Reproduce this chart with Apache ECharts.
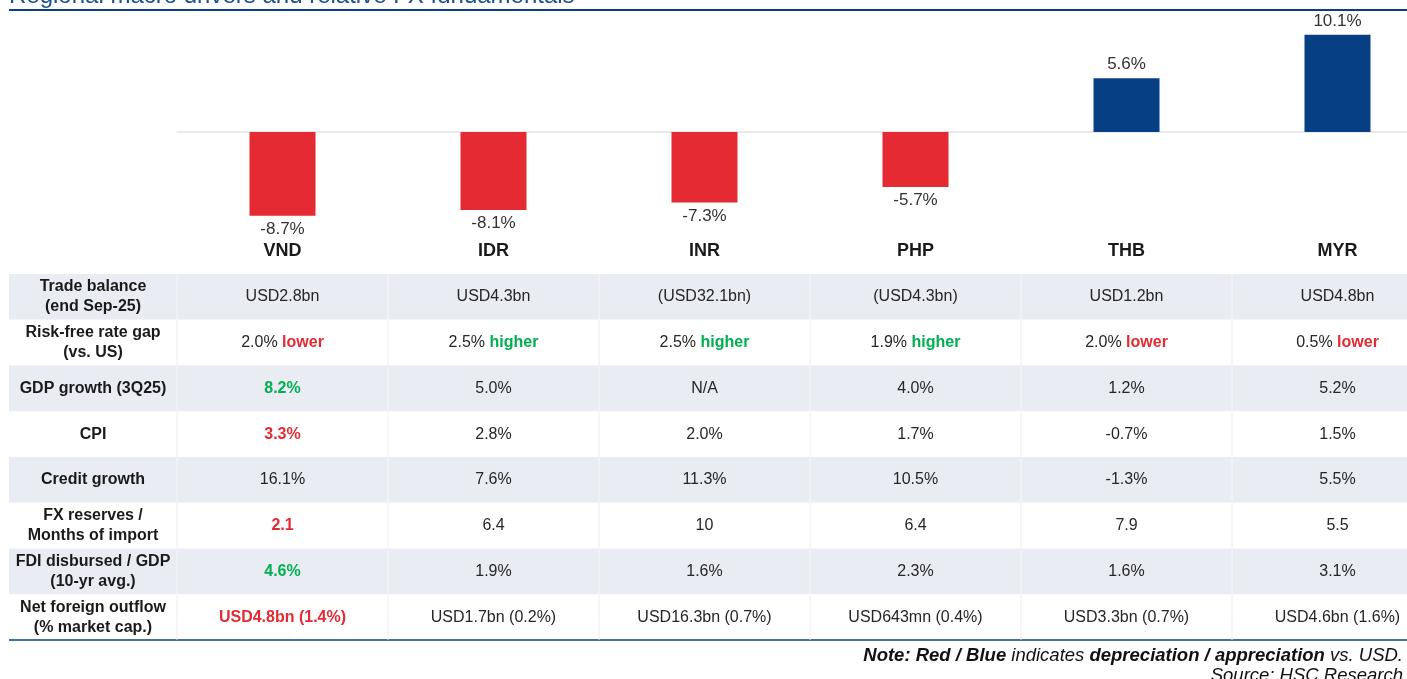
<!DOCTYPE html>
<html>
<head>
<meta charset="utf-8">
<script src="https://cdn.jsdelivr.net/npm/echarts@6/dist/echarts.min.js"></script>
<style>
  html, body { margin: 0; padding: 0; background: #fff; overflow: hidden; }
  /* the chart runs a little past the right edge of the window, as in the source */
  #chart { width: 1443px; height: 679px; }
</style>
</head>
<body>
<div id="chart"></div>
<script>
const currencies = ['VND', 'IDR', 'INR', 'PHP', 'THB', 'MYR']
const fxChange = [-8.7, -8.1, -7.3, -5.7, 5.6, 10.1]

const rowLabels = [
  'Trade balance\n(end Sep-25)',
  'Risk-free rate gap\n(vs. US)',
  'GDP growth (3Q25)',
  'CPI',
  'Credit growth',
  'FX reserves /\nMonths of import',
  'FDI disbursed / GDP\n(10-yr avg.)',
  'Net foreign outflow\n(% market cap.)'
]
// {r|..} = red bold, {g|..} = green bold
const tradeBalance = ['USD2.8bn', 'USD4.3bn', '(USD32.1bn)', '(USD4.3bn)', 'USD1.2bn', 'USD4.8bn']
const rateGap = ['2.0% {r|lower}', '2.5% {g|higher}', '2.5% {g|higher}', '1.9% {g|higher}', '2.0% {r|lower}', '0.5% {r|lower}']
const gdpGrowth = ['{g|8.2%}', '5.0%', 'N/A', '4.0%', '1.2%', '5.2%']
const cpi = ['{r|3.3%}', '2.8%', '2.0%', '1.7%', '-0.7%', '1.5%']
const creditGrowth = ['16.1%', '7.6%', '11.3%', '10.5%', '-1.3%', '5.5%']
const fxReserves = ['{r|2.1}', '6.4', '10', '6.4', '7.9', '5.5']
const fdiGdp = ['{g|4.6%}', '1.9%', '1.6%', '2.3%', '1.6%', '3.1%']
const netOutflow = ['{r|USD4.8bn (1.4%)}', 'USD1.7bn (0.2%)', 'USD16.3bn (0.7%)', 'USD643mn (0.4%)', 'USD3.3bn (0.7%)', 'USD4.6bn (1.6%)']

const tableRows = [tradeBalance, rateGap, gdpGrowth, cpi, creditGrowth, fxReserves, fdiGdp, netOutflow]

const FONT = "'Liberation Sans', Arial, sans-serif"
const RED = '#e52a33'
const BLUE = '#073f85'
const GREEN = '#00b050'
const NAVY = '#0d3f80'
const BAND = '#e9ecf3'
const LABEL_COL = 168

const chart = echarts.init(document.getElementById('chart'))

const cellData = []
tableRows.forEach((row, r) => row.forEach((_, c) => cellData.push([c, r])))

chart.setOption({
  animation: false,
  title: [
    {
      text: 'Regional macro drivers and relative FX fundamentals',
      left: 4,
      top: -21,
      textStyle: { color: '#1b4f8f', fontFamily: FONT, fontSize: 24, fontWeight: 'normal' }
    },
    {
      text: '{b|Note: Red / Blue}{i| indicates }{b|depreciation / appreciation}{i| vs. USD.}',
      right: 35,
      top: 641,
      textStyle: {
        rich: {
          b: { fontFamily: FONT, fontSize: 18.5, fontStyle: 'italic', fontWeight: 'bold', color: '#111' },
          i: { fontFamily: FONT, fontSize: 18.5, fontStyle: 'italic', fontWeight: 'normal', color: '#111' }
        }
      }
    },
    {
      text: 'Source: HSC Research',
      right: 35,
      top: 661,
      textStyle: { fontFamily: FONT, fontSize: 18.5, fontStyle: 'italic', fontWeight: 'normal', color: '#111' }
    }
  ],
  graphic: [
    {
      type: 'line',
      shape: { x1: 9, y1: 10, x2: 1407, y2: 10 },
      style: { stroke: NAVY, lineWidth: 2 }
    }
  ],
  grid: [
    { left: 177, right: 0, top: 31, bottom: 441 },
    { left: 177, right: 0, top: 274, bottom: 39 }
  ],
  xAxis: [
    {
      type: 'category',
      gridIndex: 0,
      data: currencies,
      axisLine: { onZero: true, lineStyle: { color: '#e4e4e4', width: 1.5 } },
      axisTick: { show: false },
      axisLabel: { show: false }
    },
    {
      type: 'category',
      gridIndex: 0,
      position: 'bottom',
      data: currencies,
      axisLine: { show: false, onZero: false },
      axisTick: { show: false },
      axisLabel: { margin: 4, color: '#1a1a1a', fontFamily: FONT, fontSize: 18, fontWeight: 'bold' }
    },
    {
      type: 'category',
      gridIndex: 1,
      data: currencies,
      show: false
    }
  ],
  yAxis: [
    { type: 'value', gridIndex: 0, min: -11, max: 10.5, show: false },
    {
      type: 'category',
      gridIndex: 1,
      data: rowLabels,
      inverse: true,
      z: 10,
      axisLine: { show: false },
      axisTick: { show: false },
      splitLine: { show: false },
      axisLabel: {
        margin: 84,
        align: 'center',
        color: '#1a1a1a',
        fontFamily: FONT,
        fontSize: 16,
        fontWeight: 'bold',
        lineHeight: 20
      }
    }
  ],
  series: [
    {
      type: 'bar',
      xAxisIndex: 0,
      yAxisIndex: 0,
      barWidth: 66,
      data: fxChange.map((v) => ({
        value: v,
        itemStyle: { color: v < 0 ? RED : BLUE },
        label: { position: v < 0 ? 'bottom' : 'top' }
      })),
      label: {
        show: true,
        distance: 5,
        color: '#333',
        fontFamily: FONT,
        fontSize: 17,
        formatter: (p) => p.value.toFixed(1) + '%'
      }
    },
    {
      type: 'custom',
      xAxisIndex: 2,
      yAxisIndex: 1,
      z: 1,
      silent: true,
      data: rowLabels.map((_, r) => [0, r]),
      renderItem(params, api) {
        const cs = params.coordSys
        const r = api.value(1)
        const y = api.coord([0, r])[1]
        const h = api.size([0, 1])[1]
        const children = [{
          type: 'rect',
          shape: { x: cs.x - LABEL_COL, y: y - h / 2, width: cs.width + LABEL_COL, height: h },
          style: { fill: r % 2 === 0 ? BAND : '#fff' }
        }]
        if (r === rowLabels.length - 1) {
          children.push({
            type: 'line',
            shape: { x1: cs.x - LABEL_COL, y1: y + h / 2, x2: cs.x + cs.width, y2: y + h / 2 },
            style: { stroke: NAVY, lineWidth: 1.5 }
          })
        }
        return { type: 'group', children }
      }
    },
    {
      type: 'custom',
      xAxisIndex: 2,
      yAxisIndex: 1,
      z: 2,
      silent: true,
      data: cellData,
      renderItem(params, api) {
        const c = api.value(0)
        const r = api.value(1)
        const [x, y] = api.coord([c, r])
        const w = api.size([1, 0])[0]
        const h = api.size([0, 1])[1]
        return {
          type: 'group',
          children: [
            {
              type: 'line',
              shape: { x1: x - w / 2, y1: y - h / 2, x2: x - w / 2, y2: y + h / 2 },
              style: { stroke: r % 2 === 0 ? '#f6f7fa' : '#eeeeee', lineWidth: 1 }
            },
            {
              type: 'text',
              style: {
                text: tableRows[r][c],
                x,
                y,
                align: 'center',
                verticalAlign: 'middle',
                fill: '#262626',
                fontFamily: FONT,
                fontSize: 16,
                rich: {
                  r: { fill: RED, fontWeight: 'bold', fontFamily: FONT, fontSize: 16 },
                  g: { fill: GREEN, fontWeight: 'bold', fontFamily: FONT, fontSize: 16 }
                }
              }
            }
          ]
        }
      }
    }
  ]
})
</script>
</body>
</html>
